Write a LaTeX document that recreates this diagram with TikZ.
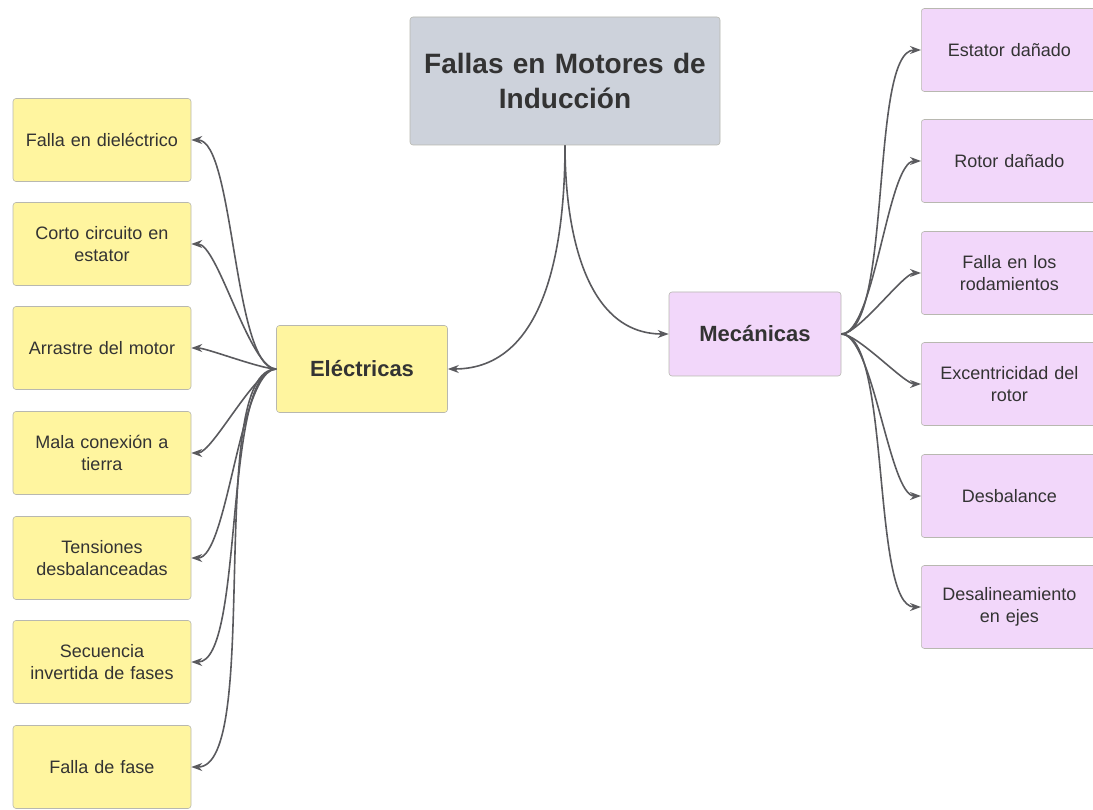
\documentclass[tikz,border=0pt]{standalone}
\usepackage{fontspec}
\setmainfont{Liberation Sans}
\usetikzlibrary{arrows.meta}
\definecolor{yel}{HTML}{FFF59F}
\definecolor{pnk}{HTML}{F2D7FA}
\definecolor{gry}{HTML}{CDD2DB}
\definecolor{bord}{HTML}{B8B8B0}
\definecolor{txt}{HTML}{333333}
\definecolor{ln}{HTML}{5A5A5E}
\tikzset{
  box/.style={draw=bord, line width=0.6pt, rounded corners=3pt, inner sep=0pt, text=txt, align=center, font=\fontsize{18}{22}\selectfont},
  ebox/.style={box, fill=yel, minimum width=178pt, minimum height=83pt, text width=176pt},
  mbox/.style={box, fill=pnk, minimum width=176pt, minimum height=83pt, text width=170pt, anchor=west},
  conn/.style={draw=ln, line width=1.6pt, -{Stealth[length=11pt,width=8pt]}},
}
\begin{document}
\begin{tikzpicture}[x=1pt,y=1pt]
\useasboundingbox (0,0) rectangle (1093,-810);
% root
\node[box, fill=gry, minimum width=310pt, minimum height=128pt, text width=305pt, font=\fontsize{28}{35}\selectfont\bfseries] (root) at (565,-81) {Fallas en Motores de\\Inducción};
\node[box, fill=yel, minimum width=171pt, minimum height=87pt, font=\fontsize{22}{26}\selectfont\bfseries] (elec) at (362,-369) {Eléctricas};
\node[box, fill=pnk, minimum width=172pt, minimum height=84pt, font=\fontsize{22}{26}\selectfont\bfseries] (mec) at (755,-334) {Mecánicas};
% left boxes
\node[ebox] (e1) at (102,-140) {Falla en dieléctrico};
\node[ebox] (e2) at (102,-244) {Corto circuito en\\estator};
\node[ebox] (e3) at (102,-348) {Arrastre del motor};
\node[ebox] (e4) at (102,-453) {Mala conexión a\\tierra};
\node[ebox] (e5) at (102,-558) {Tensiones\\desbalanceadas};
\node[ebox] (e6) at (102,-662) {Secuencia\\invertida de fases};
\node[ebox] (e7) at (102,-767) {Falla de fase};
% right boxes
\node[mbox] (m1) at (921,-50) {Estator dañado};
\node[mbox] (m2) at (921,-161) {Rotor dañado};
\node[mbox] (m3) at (921,-273) {Falla en los\\rodamientos};
\node[mbox] (m4) at (921,-384) {Excentricidad del\\rotor};
\node[mbox] (m5) at (921,-496) {Desbalance};
\node[mbox] (m6) at (921,-607) {Desalineamiento\\en ejes};
% connectors
\draw[conn] (root.south) to[out=-90,in=0] (elec.east);
\draw[conn] (root.south) to[out=-90,in=180] (mec.west);
\foreach \n in {e1,e2,e3,e4,e5,e6,e7}
  \draw[conn] (elec.west) to[out=180,in=0,looseness=0.45] (\n.east);
\foreach \n in {m1,m2,m3,m4,m5,m6}
  \draw[conn] (mec.east) to[out=0,in=180,looseness=0.45] (\n.west);
\end{tikzpicture}
\end{document}
